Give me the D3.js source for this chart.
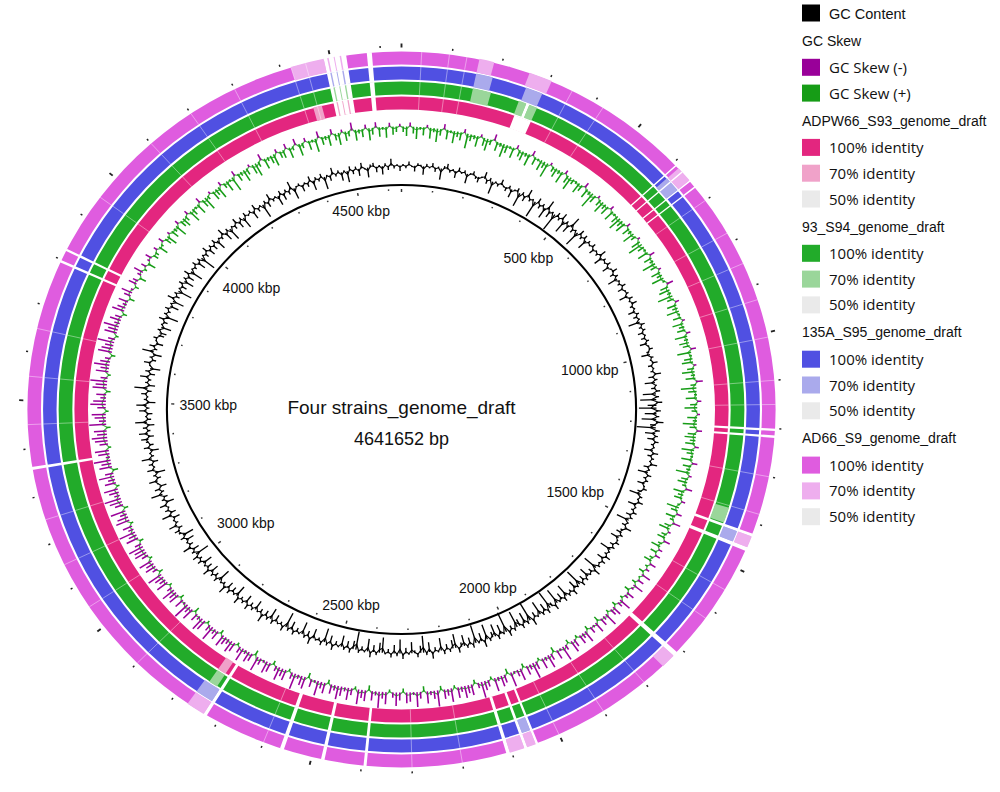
<!DOCTYPE html>
<html><head><meta charset="utf-8">
<script src="https://cdn.jsdelivr.net/npm/d3@7"></script>
<style>body{margin:0;background:#fff}svg{display:block}</style>
</head><body>
<svg id="c" width="1000" height="792"></svg>
<script>
// ---------------- DATA ----------------
const genomeLength = 4641652;
const genomeTitle = "Four strains_genome_draft";
const genomeSubtitle = "4641652 bp";
const tickLabelKbp = [500, 1000, 1500, 2000, 2500, 3000, 3500, 4000, 4500];
const tickLabels = tickLabelKbp.map(k => k + " kbp");
const ringNames = ["ADPW66_S93_genome_draft", "93_S94_genome_draft", "135A_S95_genome_draft", "AD66_S9_genome_draft"];
const ringColor100 = ["#e3267f", "#22ab2a", "#5050e2", "#df5cdf"];
const ringColor70  = ["#f0a2c9", "#9ad69a", "#aaaaec", "#eeaeee"];
const ringColor50  = "#eaeaea";
const identityLevels = ["100% identity", "70% identity", "50% identity"];
const gcContentColor = "#000000";
const skewNegColor = "#990099";
const skewPosColor = "#169c16";

// segments shared by all rings: [startKbp, endKbp, type] (w = no hit, p = 70% identity)
const commonSegments = [
  [4487,4532,"w"],[4494,4497,"p"],[4507,4509,"p"],[4519,4522,"p"],[4573,4583,"w"],
  [606,609,"w"],[624,627,"w"],[648,651,"w"],[664,667,"w"],
  [1200,1205,"w"],[1214,1219,"w"],
  [1422,1428,"w"],[1452,1460,"w"],
  [1710,1720,"w"],
  [2045,2050,"w"],[2068,2074,"w"],[2104,2111,"w"],
  [2390,2396,"w"],[2474,2481,"w"],[2557,2565,"w"],
  [2725,2732,"w"],
  [3356,3362,"w"],
  [3794,3799,"w"],[3820,3825,"w"]
];
const segmentsADPW66 = [[260,300,"w"],[2740,2760,"p"],[4440,4460,"p"]];
const segments93S94  = [[155,195,"p"],[258,275,"p"],[275,282,"w"],[282,300,"p"],[1385,1420,"p"],[2740,2760,"p"]];
const segments135A   = [[155,190,"p"],[262,298,"p"],[615,648,"p"],[1428,1452,"p"],[2050,2068,"p"],[2732,2770,"p"]];
const segmentsAD66   = [[155,185,"p"],[258,305,"p"],[615,648,"p"],[1428,1452,"p"],[1720,1750,"p"],[2050,2068,"p"],[2074,2104,"p"],[2732,2770,"p"],[4420,4487,"p"]];
const faintLinesKbp = [40,95,130,350,420,700,780,850,930,1010,1100,1150,1300,1380,1550,1620,1800,1900,2000,2200,2300,2600,2900,3050,3150,3250,3450,3550,3650,3950,4100,4200,4300,4420,4450];

// GC content deviation per window (positive = outward)
const gcContent = [
  1,-2,3,-1,-4,2,1,-6,2,-1,3,-3,1,-8,2,4,-2,1,-5,3,-1,2,-7,1,3,-2,-4,1,5,-3,2,-9,1,-2,4,-1,
  -3,2,-6,1,3,-10,2,-4,6,-2,1,-12,4,-3,2,-8,7,-5,1,-13,3,-2,5,-9,2,-6,8,-3,1,-11,4,-2,3,-7,2,-1,
  3,-4,1,-2,5,-6,2,-1,3,-5,1,4,-3,2,-7,1,-2,3,-4,1,2,-6,3,-1,4,-2,1,-5,2,-3,1,-8,3,-2,2,-4,
  1,-3,2,-5,1,3,-2,-6,2,-1,4,-3,1,-2,5,-4,2,-7,1,-3,3,-9,2,-11,4,-6,-12,3,-8,2,-10,5,-4,-13,3,-7,
  2,-5,3,-2,1,-6,4,-3,2,-1,5,-4,1,-7,3,-2,2,-5,1,3,-3,-8,2,-1,4,-6,1,-2,3,-4,2,-9,1,-3,5,-2,
  -4,2,-6,1,3,-3,2,-8,1,-2,4,-5,3,-1,2,-10,5,-3,1,-7,2,-4,3,-12,1,-6,4,-2,2,-9,3,-5,1,-11,4,-3,
  -13,3,-6,2,-10,1,-4,5,-14,2,-8,3,-5,-12,2,-3,4,-15,1,-7,3,-9,-4,2,-11,5,-6,1,-13,3,-5,2,-8,-3,4,-10,
  -6,2,-4,3,-9,1,-3,5,-7,2,-12,-5,3,-2,-8,1,-4,4,-10,2,-6,3,-3,1,-11,-7,2,-5,4,-9,1,-3,2,-13,-6,3,
  -5,2,-8,1,-3,4,-6,2,-10,3,-2,1,-7,5,-4,2,-9,1,-3,3,-6,2,-11,4,-2,1,-5,3,-8,2,-4,6,-3,1,-7,2,
  -3,4,-6,2,-2,5,-8,1,-4,3,-5,6,-2,1,-9,3,-3,2,-6,5,-4,1,-7,3,-2,4,-10,2,-5,6,-3,1,-6,3,-8,2,
  4,-3,6,-2,1,-5,7,-4,3,-1,5,-6,2,-3,8,-2,4,-5,1,6,-3,2,-7,5,-1,3,-4,7,-2,1,-6,4,-3,2,5,-4,
  6,-2,3,-5,8,-3,1,-4,5,-2,7,-6,2,-1,4,-3,9,-5,2,-2,6,-4,3,-7,1,5,-3,2,-6,8,-2,4,-5,1,3,-4,
  -5,2,-7,1,-3,4,-9,2,-2,3,-6,1,-8,5,-3,2,-10,1,-4,3,-7,2,-5,4,-9,1,-2,3,-6,2,-11,1,-3,4,-5,2,
  -4,3,-7,1,-2,5,-6,2,-9,1,-3,4,-5,2,-8,3,-1,2,-6,4,-3,1,-10,2,-4,5,-2,1,-7,3,-5,2,-3,6,-8,1,
  2,-5,1,-3,4,-7,2,-2,3,-9,1,-4,5,-2,2,-6,1,-8,3,-3,2,-5,4,-1,-7,2,3,-4,1,-6,2,-3,5,-2,1,-4
];
// GC skew per window (positive = green, inward; negative = purple, outward)
const gcSkew = [
  4,7,-3,5,9,2,6,-2,8,3,10,5,-4,7,2,9,4,6,-3,11,5,3,8,-2,6,9,4,-5,7,3,10,6,2,8,-3,5,
  7,3,9,-4,6,2,8,5,11,-2,4,7,3,9,-3,6,10,4,2,8,5,-4,7,3,12,6,-2,5,9,4,7,-3,8,2,6,10,
  5,8,-3,6,3,9,4,-2,7,11,5,2,8,-4,6,3,10,5,-2,7,4,9,2,-5,6,8,3,11,5,-3,7,4,9,2,6,-2,
  8,4,6,-3,9,3,7,5,-4,10,2,6,8,-2,5,9,3,7,-5,4,11,6,2,8,-3,5,9,4,-2,7,3,10,5,-4,6,8,
  4,7,-3,9,5,2,8,-4,6,3,10,-2,5,7,3,-5,8,4,6,-3,2,9,5,-4,7,3,-6,5,8,-2,4,6,-5,3,7,-3,
  5,-4,3,6,-5,2,-3,4,-7,1,-5,3,-8,-2,4,-6,-3,2,-9,-4,3,-7,-5,2,-10,-3,-6,4,-8,-2,-5,3,-9,-4,-7,2,
  -6,-9,3,-4,-11,-2,-7,4,-5,-10,-3,-8,2,-6,-12,-4,-7,3,-9,-5,-2,-11,4,-6,-8,-3,-10,2,-5,-7,-12,-4,3,-8,-6,-9,
  -4,-8,2,-10,-5,-7,3,-12,-6,-3,-9,4,-5,-11,-2,-7,-8,3,-6,-10,-4,2,-9,-5,-12,-3,-7,4,-8,-6,-11,2,-5,-9,-3,-7,
  -10,-4,-7,3,-8,-5,-11,-2,-6,4,-9,-7,-3,-12,-5,2,-8,-6,-10,-4,3,-7,-9,-2,-5,-11,4,-6,-8,-3,-10,-5,2,-7,-9,-4,
  -6,-9,3,-7,-4,-11,-5,2,-8,-10,-3,-6,4,-9,-5,-12,-2,-7,3,-8,-6,-10,-4,2,-9,-5,-7,-11,3,-4,-8,-6,-10,2,-5,-9,
  -8,-11,-5,3,-9,-6,-12,-4,-7,2,-10,-8,-5,-11,3,-6,-9,-12,-4,-7,-10,2,-8,-5,-11,-6,4,-9,-7,-12,-3,-8,-10,2,-6,-9,
  -11,-7,-9,3,-12,-5,-8,-10,2,-6,-11,-9,-4,-7,3,-10,-8,-12,-5,2,-9,-6,-11,-7,-4,3,-10,-8,-6,-12,-5,2,-9,-7,-11,-4,
  -8,-5,3,-9,-6,-3,-7,4,-5,-8,-2,3,-6,-4,5,-3,-7,2,-4,6,-2,-5,4,3,-3,7,2,-4,5,8,-2,6,3,9,-3,5,
  7,4,-3,9,5,2,8,-4,6,10,3,-2,7,5,9,-3,4,8,2,11,-4,6,3,9,5,-2,7,10,4,-5,8,3,6,9,-3,5,
  6,-4,8,3,-5,9,4,-3,7,2,10,-5,6,3,8,-4,5,9,-2,7,4,-6,8,3,6,-3,9,5,-4,7,2,8,-3,6,4,-2
];

// ---------------- LAYOUT ----------------
const cx = 401.5, cy = 409.5, sx = 1.045;
const rInner = 224.5;
const gcBase = 244, gcK = 1.4;
const skewBase = 283, skewK = 1.35;
const ringRadii = [[300,313],[315,328],[330,343],[345,358]];
const ringSegments = [segmentsADPW66, segments93S94, segments135A, segmentsAD66];

const svg = d3.select("#c");
const ang = d3.scaleLinear().domain([0, genomeLength]).range([0, 2*Math.PI]);
const kb = k => ang(k*1000);
const px = (r, a) => r*Math.sin(a), py = (r, a) => -r*Math.cos(a);

const g = svg.append("g").attr("transform", `translate(${cx},${cy}) scale(${sx},1)`);

// rings
const arc = d3.arc();
ringRadii.forEach((rr, i) => {
  const rg = g.append("g");
  rg.append("path").attr("d", arc({innerRadius: rr[0], outerRadius: rr[1], startAngle: 0, endAngle: 2*Math.PI}))
    .attr("fill", ringColor100[i]);
  const own = ringSegments[i];
  const order = own.filter(s => s[2]==="p")
    .concat(own.filter(s => s[2]==="w"))
    .concat(commonSegments.filter(s => s[2]==="w"))
    .concat(commonSegments.filter(s => s[2]==="p"));
  rg.selectAll("path.seg").data(order).join("path").attr("class","seg")
    .attr("d", s => arc({innerRadius: rr[0]-0.5, outerRadius: rr[1]+0.5, startAngle: kb(s[0]), endAngle: kb(s[1])}))
    .attr("fill", s => s[2]==="w" ? "#fff" : ringColor70[i]);
  rg.selectAll("line.faint").data(faintLinesKbp).join("line").attr("class","faint")
    .attr("x1", k => px(rr[0], kb(k))).attr("y1", k => py(rr[0], kb(k)))
    .attr("x2", k => px(rr[1], kb(k))).attr("y2", k => py(rr[1], kb(k)))
    .attr("stroke", "#fff").attr("stroke-opacity", 0.5).attr("stroke-width", 0.8);
});

// GC content: jagged line + spikes from baseline
const lineR = d3.lineRadial().angle(d => d[0]).radius(d => d[1]).curve(d3.curveLinearClosed);
const nGC = gcContent.length;
const aGC = i => (i + 0.5)/nGC*2*Math.PI;
g.append("path").datum(gcContent.map((v, i) => [aGC(i), gcBase + v*gcK*0.3]))
  .attr("d", lineR).attr("fill", "none").attr("stroke", gcContentColor).attr("stroke-width", 1.1);
g.selectAll("line.gc").data(gcContent).join("line").attr("class","gc")
  .attr("x1", (v, i) => px(gcBase, aGC(i))).attr("y1", (v, i) => py(gcBase, aGC(i)))
  .attr("x2", (v, i) => px(gcBase + v*gcK, aGC(i))).attr("y2", (v, i) => py(gcBase + v*gcK, aGC(i)))
  .attr("stroke", gcContentColor).attr("stroke-width", 1.3);

// GC skew
const nSK = gcSkew.length;
const aSK = i => (i + 0.5)/nSK*2*Math.PI;
g.append("path").datum(gcSkew.map((v, i) => [aSK(i), skewBase - v*skewK*0.25]))
  .attr("d", lineR).attr("fill", "none").attr("stroke", skewPosColor).attr("stroke-width", 1.2).attr("stroke-opacity", 0.8);
g.selectAll("line.sk").data(gcSkew).join("line").attr("class","sk")
  .attr("x1", (v, i) => px(skewBase, aSK(i))).attr("y1", (v, i) => py(skewBase, aSK(i)))
  .attr("x2", (v, i) => px(skewBase - v*skewK, aSK(i))).attr("y2", (v, i) => py(skewBase - v*skewK, aSK(i)))
  .attr("stroke", v => v > 0 ? skewPosColor : skewNegColor).attr("stroke-width", 1.5);

// inner circle + ticks
g.append("circle").attr("r", rInner).attr("fill", "none").attr("stroke", "#000").attr("stroke-width", 2);
const ticks = d3.range(0, genomeLength, 100000);
const isMajor = t => t % 500000 === 0;
g.selectAll("line.it").data(ticks).join("line").attr("class","it")
  .attr("x1", t => px(rInner-4, ang(t))).attr("y1", t => py(rInner-4, ang(t)))
  .attr("x2", t => px(rInner-(isMajor(t)?7:5.5), ang(t))).attr("y2", t => py(rInner-(isMajor(t)?7:5.5), ang(t)))
  .attr("stroke", "#333").attr("stroke-width", 1.4);
g.selectAll("line.ot").data(ticks).join("line").attr("class","ot")
  .attr("x1", t => px(362, ang(t))).attr("y1", t => py(362, ang(t)))
  .attr("x2", t => px(isMajor(t)?366:364, ang(t))).attr("y2", t => py(isMajor(t)?366:364, ang(t)))
  .attr("stroke", "#222").attr("stroke-width", t => isMajor(t)?1.8:1.4);

// kbp labels
const lbl = svg.append("g").attr("font-family", "'Liberation Sans', Arial, sans-serif").attr("font-size", 14).attr("fill", "#111");
tickLabelKbp.forEach((k, i) => {
  const a = kb(k);
  const t = lbl.append("text").text(tickLabels[i]).attr("text-anchor", "middle");
  const w = t.node().getComputedTextLength(), h = 12;
  const ux = Math.sin(a), uy = -Math.cos(a);
  const d = 214 - (Math.abs(ux)*w/2 + Math.abs(uy)*h/2);
  t.attr("x", cx + sx*d*ux).attr("y", cy + d*uy + 5);
});

// center title
svg.append("text").attr("x", cx).attr("y", 414).attr("text-anchor", "middle")
  .attr("font-family", "'Liberation Sans', Arial, sans-serif").attr("font-size", 19).attr("fill", "#111").text(genomeTitle);
svg.append("text").attr("x", cx).attr("y", 445).attr("text-anchor", "middle")
  .attr("font-family", "'Liberation Sans', Arial, sans-serif").attr("font-size", 18).attr("fill", "#111").text(genomeSubtitle);

// legend
const leg = svg.append("g");
const items = [];
items.push({type: "item", color: gcContentColor, label: "GC Content", font: "arial"});
items.push({type: "header", label: "GC Skew"});
items.push({type: "item", color: skewNegColor, label: "GC Skew (-)"});
items.push({type: "item", color: skewPosColor, label: "GC Skew (+)"});
ringNames.forEach((nm, i) => {
  items.push({type: "header", label: nm});
  items.push({type: "item", color: ringColor100[i], label: identityLevels[0]});
  items.push({type: "item", color: ringColor70[i], label: identityLevels[1]});
  items.push({type: "item", color: ringColor50, label: identityLevels[2]});
});
let y = 13, prev = null;
items.forEach((it, i) => {
  if (i > 0) {
    if (it.type === "header") y += 27.5;
    else if (prev.type === "header") y += 26.8;
    else y += 25.8;
  }
  if (it.type === "header") {
    leg.append("text").attr("x", 802).attr("y", y + 5).attr("font-family", "'Liberation Sans', Arial, sans-serif")
      .attr("font-size", 14).attr("fill", "#111").text(it.label);
  } else {
    leg.append("rect").attr("x", 802).attr("y", y - 8.5).attr("width", 18).attr("height", 17).attr("fill", it.color);
    leg.append("text").attr("x", 829).attr("y", y + 5.5)
      .attr("font-family", it.font === "arial" ? "'Liberation Sans', Arial, sans-serif" : "'Open Sans', sans-serif")
      .attr("font-size", it.font === "arial" ? 14.5 : 15).attr("fill", "#111").text(it.label);
  }
  prev = it;
});
</script>
</body></html>
